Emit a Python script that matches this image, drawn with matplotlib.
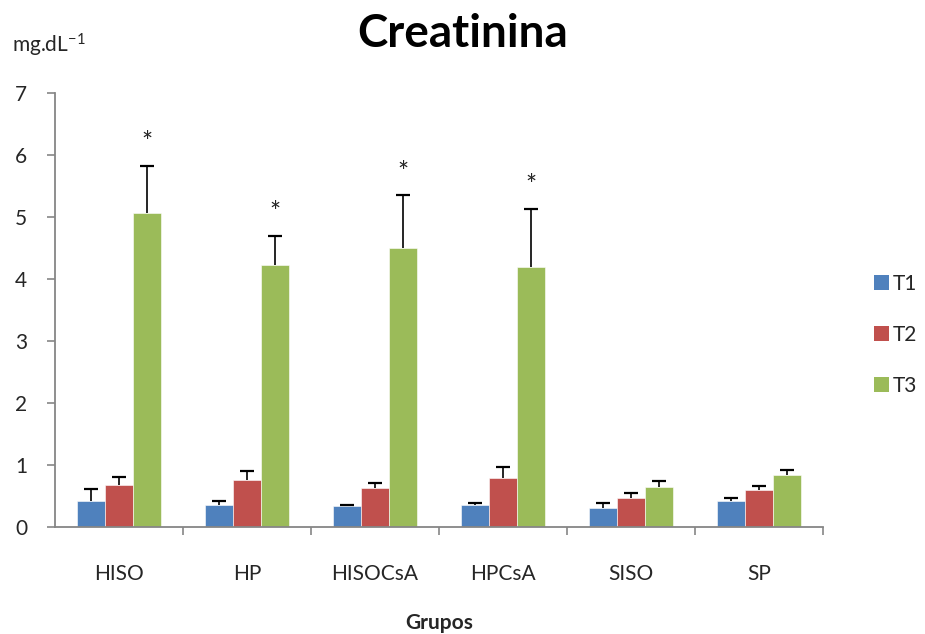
import matplotlib
matplotlib.use("Agg")
import matplotlib.pyplot as plt
import numpy as np
from matplotlib.patches import Patch

# Serum creatinine per group at three time points (mean and upper SD)
groups = ["HISO", "HP", "HISOCsA", "HPCsA", "SISO", "SP"]
t1 = [0.43, 0.37, 0.34, 0.37, 0.31, 0.42]
t1_err = [0.19, 0.05, 0.02, 0.03, 0.08, 0.06]
t2 = [0.69, 0.76, 0.63, 0.79, 0.47, 0.61]
t2_err = [0.12, 0.15, 0.08, 0.18, 0.08, 0.06]
t3 = [5.07, 4.23, 4.51, 4.20, 0.66, 0.84]
t3_err = [0.76, 0.47, 0.84, 0.93, 0.09, 0.08]
signif = ["*", "*", "*", "*", "", ""]
series_names = ["T1", "T2", "T3"]
y_ticks = [0, 1, 2, 3, 4, 5, 6, 7]

colors = ["#4F81BD", "#C0504D", "#9BBB59"]
axis_grey = "#868686"

plt.rcParams["font.family"] = ["Lato", "DejaVu Sans"]
plt.rcParams["mathtext.fontset"] = "custom"
plt.rcParams["mathtext.rm"] = "Lato"
plt.rcParams["mathtext.it"] = "Lato"

fig = plt.figure(figsize=(9.25, 6.34), dpi=100)
ax = fig.add_axes([0.0595, 0.168, 0.8302, 0.6853])

x = np.arange(len(groups))
width = 0.22
series = [(t1, t1_err), (t2, t2_err), (t3, t3_err)]
for i, (vals, errs) in enumerate(series):
    pos = x + (i - 1) * width
    ax.bar(pos, vals, width, color=colors[i], edgecolor="white",
           linewidth=0.4, zorder=2)
    eb = ax.errorbar(pos, vals, yerr=[np.zeros(len(vals)), errs], fmt="none",
                     ecolor="black", elinewidth=1.2, capsize=5, capthick=1.6,
                     zorder=3)
    # plus-only error bars: hide the cap sitting on the bar top
    eb[1][0].set_visible(False)

# significance marks above the T3 bars
for xi, v, e, s in zip(x + width, t3, t3_err, signif):
    if s:
        ax.annotate(s, (xi, v + e), xytext=(0, 7), textcoords="offset points",
                    ha="center", va="bottom", fontsize=19, color="#222222")

ax.set_xlim(-0.5, len(groups) - 0.5)
ax.set_ylim(0, 7)
ax.set_yticks(y_ticks)
ax.set_xticks(x)
ax.set_xticklabels(groups)
ax.set_xticks(np.arange(0.5, len(groups)), minor=True)
ax.tick_params(axis="x", which="major", length=0, pad=26, labelsize=15,
               colors="#262626")
ax.tick_params(axis="x", which="minor", length=6, width=1.2,
               color=axis_grey)
ax.tick_params(axis="y", length=6, width=1.2, color=axis_grey, pad=14,
               labelsize=15, labelcolor="#262626")

for side in ["top", "right"]:
    ax.spines[side].set_visible(False)
for side in ["left", "bottom"]:
    ax.spines[side].set_color(axis_grey)
    ax.spines[side].set_linewidth(1.3)

fig.text(0.5, 0.947, "Creatinina", ha="center", va="center",
         fontsize=33, fontweight="bold", color="black")
fig.text(0.013, 0.928, r"mg.dL$^{\mathregular{-1}}$", ha="left",
         va="center", fontsize=15, color="#262626")
fig.text(0.475, 0.018, "Grupos", ha="center", va="center",
         fontsize=15, fontweight="bold", color="#262626")

handles = [Patch(facecolor=c, edgecolor="none") for c in colors]
fig.legend(handles, series_names, loc="center left",
           bbox_to_anchor=(0.945, 0.472), frameon=False, fontsize=15,
           handlelength=0.7, handleheight=0.7, handletextpad=0.2,
           labelspacing=1.5, borderpad=0, borderaxespad=0,
           labelcolor="#262626")

fig.savefig("out.png", dpi=100)
